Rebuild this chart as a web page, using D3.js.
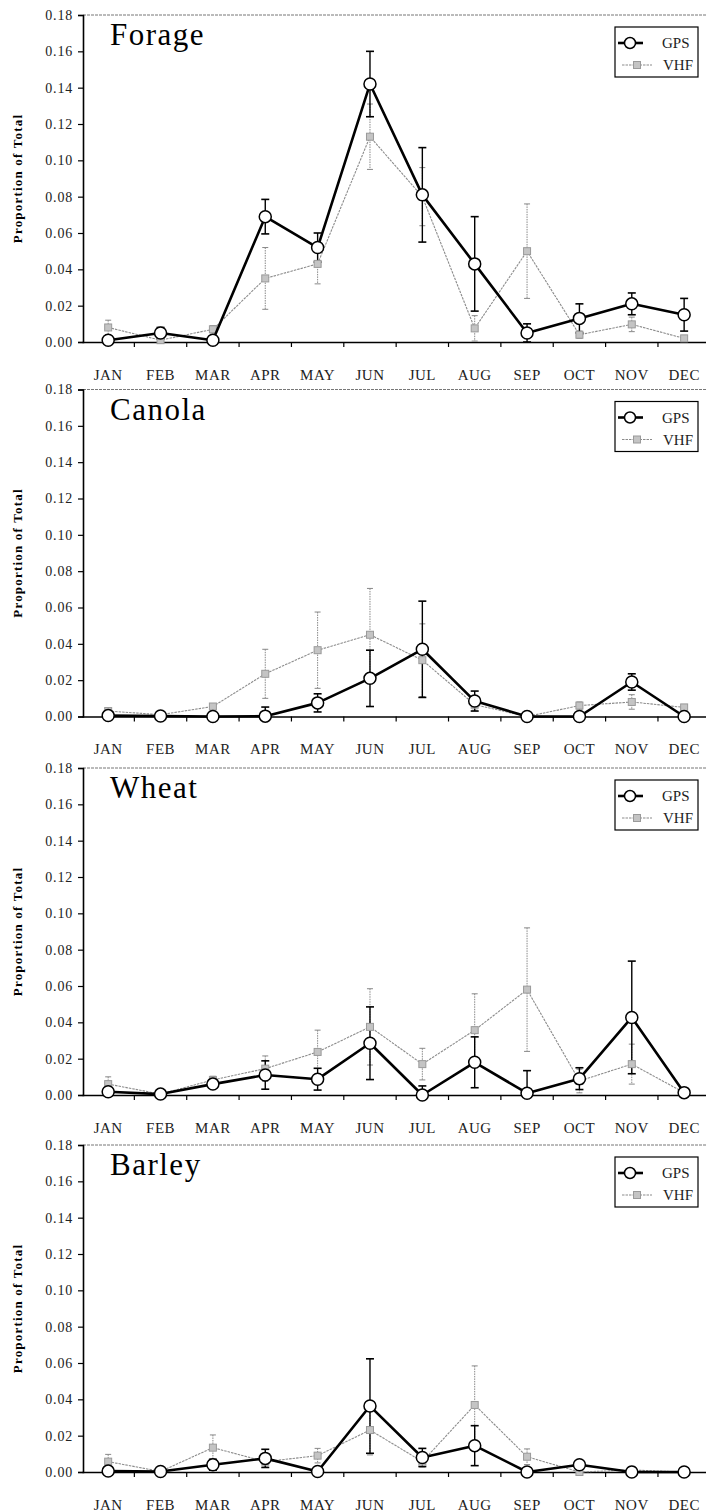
<!DOCTYPE html>
<html><head><meta charset="utf-8">
<script src="https://cdn.jsdelivr.net/npm/d3@7"></script>
<style>body{margin:0;background:#fff}svg{display:block}</style>
</head><body>
<svg id="c" width="706" height="1512"></svg>
<script>
const months = ["JAN","FEB","MAR","APR","MAY","JUN","JUL","AUG","SEP","OCT","NOV","DEC"];
const crops = ["Forage","Canola","Wheat","Barley"];
const yTicks = [0,0.02,0.04,0.06,0.08,0.10,0.12,0.14,0.16,0.18];
const seriesNames = ["GPS","VHF"];

const gpsForage    = [0.001,0.005,0.001,0.069,0.052,0.142,0.081,0.043,0.005,0.013,0.021,0.015];
const gpsForageErr = [0,0.003,0,0.0095,0.008,0.018,0.026,0.026,0.005,0.008,0.006,0.009];
const vhfForage    = [0.008,0.001,0.007,0.035,0.043,0.113,0.080,0.0075,0.050,0.004,0.0097,0.002];
const vhfForageErr = [0.004,0.001,0.002,0.017,0.011,0.018,0.016,0.007,0.026,0.002,0.004,0.001];

const gpsCanola    = [0.0005,0.0003,0,0.0002,0.0075,0.021,0.037,0.0085,0,0,0.019,0];
const gpsCanolaErr = [0,0,0,0.005,0.005,0.0155,0.0265,0.0055,0,0,0.0045,0];
const vhfCanola    = [0.003,0.001,0.0055,0.0235,0.0365,0.045,0.031,0.0065,0,0.006,0.008,0.005];
const vhfCanolaErr = [0.001,0.001,0.001,0.0135,0.021,0.0255,0.02,0.003,0.001,0.002,0.004,0.001];

const gpsWheat    = [0.0018,0.0005,0.006,0.011,0.0087,0.0285,0,0.018,0.001,0.009,0.0427,0.0013];
const gpsWheatErr = [0.001,0,0.002,0.0078,0.006,0.02,0.005,0.014,0.0124,0.006,0.031,0];
const vhfWheat    = [0.006,0.0005,0.0083,0.0145,0.0237,0.0375,0.017,0.0357,0.058,0.0077,0.017,0.0013];
const vhfWheatErr = [0.004,0,0.002,0.007,0.012,0.021,0.0087,0.02,0.034,0.0065,0.011,0.001];

const gpsBarley    = [0.0005,0.0003,0.004,0.0075,0.0003,0.0363,0.008,0.0145,0,0.004,0,0];
const gpsBarleyErr = [0,0,0.003,0.005,0,0.026,0.005,0.011,0,0.002,0,0];
const vhfBarley    = [0.0057,0.0003,0.0134,0.0057,0.009,0.0231,0.0057,0.0369,0.0084,0,0.0011,0];
const vhfBarleyErr = [0.004,0,0.007,0.003,0.004,0.0137,0.003,0.0215,0.0043,0.001,0.002,0];

const panelData = [
  {gps:gpsForage, gpsErr:gpsForageErr, vhf:vhfForage, vhfErr:vhfForageErr},
  {gps:gpsCanola, gpsErr:gpsCanolaErr, vhf:vhfCanola, vhfErr:vhfCanolaErr},
  {gps:gpsWheat,  gpsErr:gpsWheatErr,  vhf:vhfWheat,  vhfErr:vhfWheatErr},
  {gps:gpsBarley, gpsErr:gpsBarleyErr, vhf:vhfBarley, vhfErr:vhfBarleyErr}
];

const svg = d3.select("#c");
const FONT = "'Liberation Serif','Times New Roman',serif";
const tops = [15, 389.5, 768, 1145];
const plotH = 327;
const axisX = 83;

const x = d3.scaleBand().domain(months).range([82, 82 + 12*52.36]).paddingInner(0).paddingOuter(0);
const cx = m => x(m) + x.bandwidth()/2;

crops.forEach((crop, pi) => {
  const d = panelData[pi];
  const top = tops[pi];
  const y = d3.scaleLinear().domain([0, 0.18]).range([top + plotH, top]);
  const g = svg.append("g");

  // top frame line
  g.append("line").attr("x1", axisX).attr("x2", 706).attr("y1", y(0.18)).attr("y2", y(0.18))
    .attr("stroke", "#777").attr("stroke-width", 1).attr("stroke-dasharray", "3,1");

  // y axis
  const yAxis = d3.axisLeft(y).tickValues(yTicks).tickFormat(d3.format(".2f")).tickSize(5).tickPadding(5);
  const ya = g.append("g").attr("transform", `translate(${axisX},0)`).call(yAxis);
  ya.select(".domain").attr("stroke", "#000").attr("stroke-width", 1.6);
  ya.selectAll(".tick line").attr("stroke", "#000").attr("stroke-width", 1.2);
  ya.selectAll(".tick text").attr("font-family", FONT).attr("font-size", 14)
    .attr("letter-spacing", "0.8px").attr("fill", "#222");

  // x axis
  const xAxis = d3.axisBottom(x).tickSize(0).tickPadding(27);
  const xa = g.append("g").attr("transform", `translate(0,${y(0)})`).call(xAxis);
  xa.select(".domain").attr("stroke", "#000").attr("stroke-width", 1.6);
  xa.selectAll(".tick text").attr("font-family", FONT).attr("font-size", 15)
    .attr("letter-spacing", "0.5px").attr("fill", "#222");
  // ticks at band boundaries
  g.append("g").selectAll("line").data(months.slice(1)).join("line")
    .attr("x1", m => x(m)).attr("x2", m => x(m))
    .attr("y1", y(0)).attr("y2", y(0) + 5)
    .attr("stroke", "#000").attr("stroke-width", 1.2);

  // y label
  g.append("text")
    .attr("transform", `translate(22,${top + plotH/2}) rotate(-90)`)
    .attr("text-anchor", "middle")
    .attr("font-family", FONT).attr("font-weight", "bold").attr("font-size", 13)
    .attr("letter-spacing", "1.2px")
    .text("Proportion of Total");

  // title
  g.append("text").attr("x", 110).attr("y", top + 30)
    .attr("font-family", FONT).attr("font-size", 31).attr("letter-spacing", "1.5px")
    .text(crop);

  // VHF series
  const vhfPts = months.map((m, i) => ({m, v: d.vhf[i], e: d.vhfErr[i]}));
  const gpsPts = months.map((m, i) => ({m, v: d.gps[i], e: d.gpsErr[i]}));
  const line = d3.line().x(p => cx(p.m)).y(p => y(p.v));

  const vhfErrG = g.append("g");
  vhfPts.filter(p => p.e > 0).forEach(p => {
    vhfErrG.append("line").attr("x1", cx(p.m)).attr("x2", cx(p.m))
      .attr("y1", y(p.v + p.e)).attr("y2", y(Math.max(0, p.v - p.e)))
      .attr("stroke", "#888").attr("stroke-width", 1).attr("stroke-dasharray", "1.5,1");
    [p.v + p.e, p.v - p.e].forEach(val => {
      if (val < 0) return;
      vhfErrG.append("line").attr("x1", cx(p.m) - 3).attr("x2", cx(p.m) + 3)
        .attr("y1", y(val)).attr("y2", y(val)).attr("stroke", "#888").attr("stroke-width", 1);
    });
  });
  g.append("path").datum(vhfPts).attr("d", line).attr("fill", "none")
    .attr("stroke", "#8c8c8c").attr("stroke-width", 1.1).attr("stroke-dasharray", "2.5,1");

  // GPS error bars
  const gpsErrG = g.append("g");
  gpsPts.filter(p => p.e > 0).forEach(p => {
    gpsErrG.append("line").attr("x1", cx(p.m)).attr("x2", cx(p.m))
      .attr("y1", y(p.v + p.e)).attr("y2", y(Math.max(0, p.v - p.e)))
      .attr("stroke", "#000").attr("stroke-width", 1.4);
    [p.v + p.e, p.v - p.e].forEach(val => {
      if (val < 0) return;
      gpsErrG.append("line").attr("x1", cx(p.m) - 4).attr("x2", cx(p.m) + 4)
        .attr("y1", y(val)).attr("y2", y(val)).attr("stroke", "#000").attr("stroke-width", 1.6);
    });
  });

  // VHF markers
  g.append("g").selectAll("rect").data(vhfPts).join("rect")
    .attr("x", p => cx(p.m) - 3.5).attr("y", p => y(p.v) - 3.5)
    .attr("width", 7).attr("height", 7)
    .attr("fill", "#c4c4c4").attr("stroke", "#9a9a9a").attr("stroke-width", 1);

  // GPS line + markers
  g.append("path").datum(gpsPts).attr("d", line).attr("fill", "none")
    .attr("stroke", "#000").attr("stroke-width", 2.6).attr("stroke-linejoin", "round");
  g.append("g").selectAll("circle").data(gpsPts).join("circle")
    .attr("cx", p => cx(p.m)).attr("cy", p => y(p.v)).attr("r", 6)
    .attr("fill", "#fff").attr("stroke", "#000").attr("stroke-width", 1.5);

  // legend
  const lg = g.append("g").attr("transform", `translate(615,${top + 12})`);
  lg.append("rect").attr("width", 83).attr("height", 50)
    .attr("fill", "#fff").attr("stroke", "#000").attr("stroke-width", 1.2);
  // GPS row
  lg.append("line").attr("x1", 3).attr("x2", 28).attr("y1", 16).attr("y2", 16)
    .attr("stroke", "#000").attr("stroke-width", 2.6);
  lg.append("circle").attr("cx", 15).attr("cy", 16).attr("r", 5.5)
    .attr("fill", "#fff").attr("stroke", "#000").attr("stroke-width", 1.5);
  lg.append("text").attr("x", 47).attr("y", 21).attr("font-family", FONT).attr("font-size", 15)
    .attr("fill", "#222").text(seriesNames[0]);
  // VHF row
  lg.append("line").attr("x1", 7).attr("x2", 37).attr("y1", 38).attr("y2", 38)
    .attr("stroke", "#8c8c8c").attr("stroke-width", 1.1).attr("stroke-dasharray", "2.5,1");
  lg.append("rect").attr("x", 18.5).attr("y", 34.5).attr("width", 7).attr("height", 7)
    .attr("fill", "#c4c4c4").attr("stroke", "#9a9a9a").attr("stroke-width", 1);
  lg.append("text").attr("x", 48).attr("y", 43).attr("font-family", FONT).attr("font-size", 15)
    .attr("fill", "#222").text(seriesNames[1]);
});
</script>
</body></html>
